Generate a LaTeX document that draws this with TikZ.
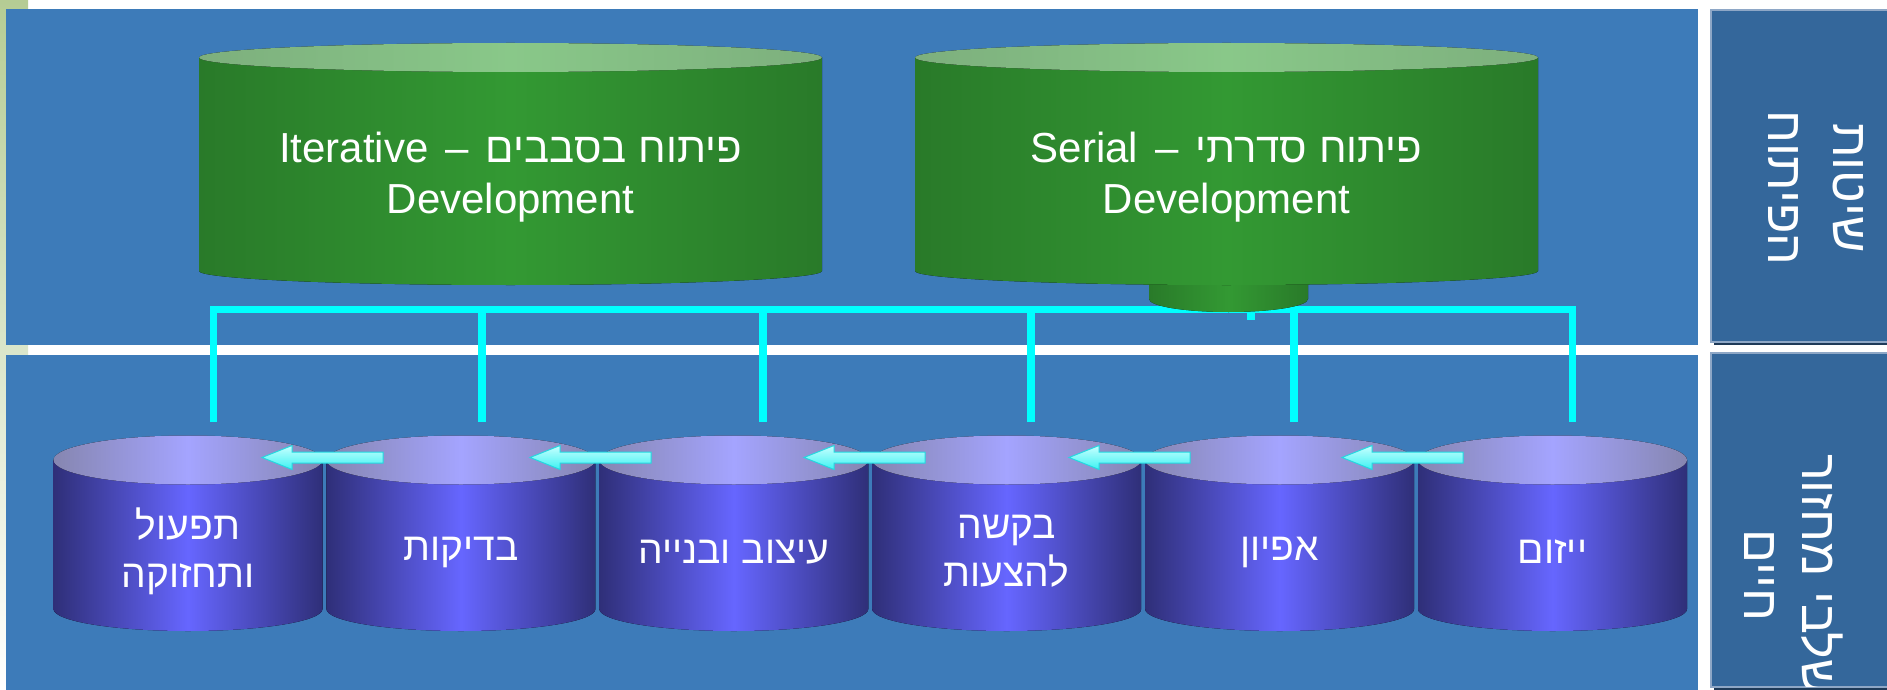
\documentclass[tikz,border=0pt]{standalone}
\usepackage{fontspec}
\setmainfont{Liberation Sans}
\newfontfamily\heb[Script=Hebrew]{Liberation Sans}
\TeXXeTstate=1
\newcommand{\rl}[1]{\hbox{\beginR #1\endR}}
\definecolor{panelblue}{HTML}{3D7BB9}
\definecolor{sideblue}{HTML}{34679B}
\definecolor{sideedge}{HTML}{8EA7C6}
\definecolor{sideshadow}{HTML}{1E3A58}
\definecolor{stripgreen}{HTML}{B5CC94}
\definecolor{busc}{HTML}{00FFFF}
\definecolor{bluedge}{HTML}{2F2F78}
\definecolor{bluemid}{HTML}{6666FF}
\definecolor{bluetopedge}{HTML}{8686B0}
\definecolor{bluetopmid}{HTML}{A4A4FF}
\definecolor{greenedge}{HTML}{297A29}
\definecolor{greenmid}{HTML}{339933}
\definecolor{greentopedge}{HTML}{7DAF7D}
\definecolor{greentopmid}{HTML}{89C889}
\definecolor{arrtop}{HTML}{C8FFFF}
\definecolor{arrbot}{HTML}{3CF2F2}
\definecolor{arredge}{HTML}{22D8E0}
% cylinder body: cx, top y, bottom y, rx, ry, edge colour, middle colour
\newcommand{\cylbody}[7]{%
  \fill[left color=#6, right color=#6, middle color=#7]
    (#1-#4,#2) -- (#1-#4,#3)
    arc[start angle=180, end angle=360, x radius=#4pt, y radius=#5pt]
    -- (#1+#4,#2) -- cycle;}
% cylinder top: cx, top y, rx, ry, edge colour, middle colour
\newcommand{\cyltop}[6]{%
  \fill[left color=#5, right color=#5, middle color=#6]
    (#1,#2) ellipse[x radius=#3pt, y radius=#4pt];}
\begin{document}
\begin{tikzpicture}[x=1pt,y=-1pt,
  panel/.style={fill=panelblue},
  sidepanel/.style={fill=sideblue, draw=sideedge, line width=1.5pt},
  sideshade/.style={fill=sideshadow},
  bus/.style={draw=busc, line width=7pt, line cap=butt, line join=miter},
  drop/.style={draw=busc, line width=8pt, line cap=butt},
  blockarrow/.style={top color=arrtop, bottom color=arrbot, draw=arredge, line width=1pt, line join=miter},
  ctext/.style={text=white, align=center, font=\heb\fontsize{39}{48}\selectfont, inner sep=0pt},
  gtext/.style={text=white, align=center, font=\heb\fontsize{42}{51}\selectfont, inner sep=0pt},
  stext/.style={text=white, font=\heb\fontsize{50}{64}\selectfont, inner sep=0pt, rotate=-90},
]
\useasboundingbox (0,0) rectangle (1887,690);
\fill[white] (0,0) rectangle (1887,690);
% left green strip
\shade[top color=stripgreen, bottom color=white] (0,0) rectangle (28,690);
% main panels
\fill[panel] (6,9) rectangle (1698,345);
\fill[panel] (6,355) rectangle (1698,690);
% right panels
\fill[sideshade] (1714,13) rectangle (1900,345);
\filldraw[sidepanel] (1711,10) rectangle (1900,342);
\fill[sideshade] (1714,356) rectangle (1900,690);
\filldraw[sidepanel] (1711,353) rectangle (1900,687);
\node[stext] (lmeth1) at (1848,188) {\rl{שיטות}};
\node[stext] (lmeth2) at (1783,188) {\rl{הפיתוח}};
\begin{scope}
  \clip (1712,354) rectangle (1900,686);
  \node[stext] (lcyc1) at (1822,575) {\rl{שלבי מחזור}};
  \node[stext] (lcyc2) at (1759,575) {\rl{חיים}};
\end{scope}
% cyan bus
\coordinate (busL) at (213,309.5);
\coordinate (busR) at (1572,309.5);
\coordinate (d1) at (213,422);
\coordinate (d2) at (482,422);
\coordinate (d3) at (763,422);
\coordinate (d4) at (1031,422);
\coordinate (d5) at (1294,422);
\coordinate (d6) at (1572,422);
\coordinate (sbase) at (1251,298);
\coordinate (sstub) at (1251,320);
\draw[bus] (d1) -- (busL) -- (busR) -- (d6);
\foreach \d in {d2,d3,d4,d5} \draw[drop] (\d) -- (\d |- busL);
\draw[drop] (sbase) -- (sstub);
% green cylinders
\cylbody{1228.5}{250}{299}{79.5}{13}{greenedge}{greenmid}
\cylbody{510.5}{57.5}{271}{311.5}{14}{greenedge}{greenmid}
\cyltop{510.5}{57.5}{311.5}{14.5}{greentopedge}{greentopmid}
\cylbody{1226.5}{57.5}{271}{311.5}{14}{greenedge}{greenmid}
\cyltop{1226.5}{57.5}{311.5}{14.5}{greentopedge}{greentopmid}
\node[gtext] (giter) at (510.5,177) {\hbox{Iterative\hskip17pt–\hskip17pt\beginR פיתוח בסבבים\endR}\\Development};
\node[gtext] (gserial) at (1226.5,177) {\hbox{Serial\hskip17pt–\hskip17pt\beginR פיתוח סדרתי\endR}\\Development};
% blue cylinders
\foreach \i in {0,...,5} {
  \pgfmathsetmacro{\cx}{188+272.9*\i}
  \cylbody{\cx}{460}{609}{134.5}{22}{bluedge}{bluemid}
  \cyltop{\cx}{460}{134.5}{24.5}{bluetopedge}{bluetopmid}
}
\node[ctext] (c6) at (1552.5,552) {\rl{ייזום}};
\node[ctext] (c5) at (1279.6,552) {\rl{אפיון}};
\node[ctext] (c4) at (1006.7,551) {\rl{בקשה}\\\rl{להצעות}};
\node[ctext] (c3) at (733.8,552) {\rl{עיצוב ובנייה}};
\node[ctext] (c2) at (460.9,552) {\rl{בדיקות}};
\node[ctext] (c1) at (188,551) {\rl{תפעול}\\\rl{ותחזוקה}};
% block arrows (tips)
\foreach \t [count=\k] in {262,530,804,1069,1342} {
  \coordinate (tip\k) at (\t,457.5);
  \draw[blockarrow] (tip\k) -- ++(30,-12) -- ++(0,6.5) -- ++(91,0) -- ++(0,11) -- ++(-91,0) -- ++(0,6.5) -- cycle;
}
\end{tikzpicture}
\end{document}
